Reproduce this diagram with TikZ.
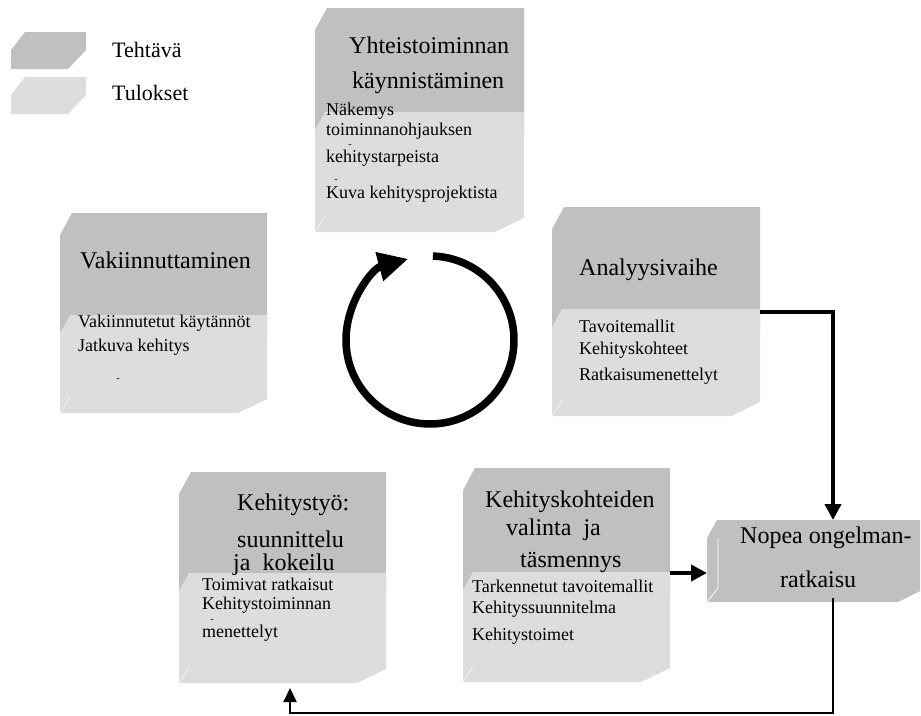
\documentclass[tikz,border=0pt]{standalone}
\usepackage{fontspec}
\setmainfont{Liberation Serif}
\usetikzlibrary{arrows.meta}
\definecolor{tumma}{HTML}{C0C0C0}
\definecolor{vaalea}{HTML}{DDDDDD}

\begin{document}
\begin{tikzpicture}[x=1pt,y=-1pt,
    otsikko/.style={font=\fontsize{24}{28}\selectfont, inner sep=0pt, anchor=base west},
    teksti/.style={font=\fontsize{18}{21}\selectfont, inner sep=0pt, anchor=base west},
    viiva/.style={font=\fontsize{10}{12}\selectfont, inner sep=0pt},
    nuoli/.style={line width=4pt, -{Triangle[length=16pt,width=16pt]}},
    ohutnuoli/.style={line width=2pt, -{Triangle[length=14pt,width=13pt]}}]

       \useasboundingbox (0,0) rectangle (921,715);

       %lohkon tumma yläosa ja vaalea alaosa
       \newcommand{\nYlaosa}[4]{\fill[tumma] (#1+12,#2) -- (#3,#2) -- (#3,#4) -- (#1,#4) -- (#1,#2+22) -- cycle;}
       \newcommand{\nAlaosa}[4]{%
           \fill[vaalea] (#1+10,#2) -- (#3,#2) -- (#3,#4-14) -- (#3-29,#4) -- (#1,#4) -- (#1,#2+18) -- cycle;
           \draw[white, line width=0.4pt] (#1,#4) -- (#1+10,#4-16);}

       %selite
       \fill[tumma] (25,32) -- (86,32) -- (86,50) -- (68,69) -- (11,69) -- (11,50) -- cycle;
       \fill[vaalea] (25,77) -- (86,77) -- (86,95) -- (68,114) -- (11,114) -- (11,95) -- cycle;
       \node[font=\fontsize{22}{26}\selectfont, inner sep=0pt, anchor=base west] (lTehtava) at (112,57) {Tehtävä};
       \node[font=\fontsize{22}{26}\selectfont, inner sep=0pt, anchor=base west] (lTulokset) at (112,100) {Tulokset};

       %lohkot
       \nYlaosa{315}{8}{524}{135}   \nAlaosa{315}{112}{524}{232}
       \nYlaosa{60}{213}{267}{340}  \nAlaosa{60}{315}{267}{413}
       \nYlaosa{552}{207}{760}{330} \nAlaosa{552}{309}{760}{416}
       \nYlaosa{179}{472}{386}{595} \nAlaosa{179}{573}{386}{683}
       \nYlaosa{463}{468}{670}{595} \nAlaosa{463}{572}{670}{682}

       \fill[tumma] (717,520) -- (920,520) -- (920,591) -- (898,602) -- (707,602) -- (707,538) -- cycle;
       \draw[white, line width=0.8pt] (718,538) -- (718,588) -- (707,602);

       %otsikot
       \foreach \v/\x/\y/\t in
       {tYhteis/349/53/Yhteistoiminnan,
           tKaynnis/352/88/käynnistäminen,
           tVakiin/80/268/Vakiinnuttaminen,
           tAnalyysi/579/275/Analyysivaihe,
           tKehitystyo/237/510/Kehitystyö:,
           tSuunn/237/547/suunnittelu,
           tKokeilu/233/570/ja\ \ kokeilu,
           tKohteet/485/507/Kehityskohteiden,
           tValinta/506/535/valinta\ \ ja,
           tTasm/520/567/täsmennys,
           tNopea/740/543/Nopea ongelman-,
           tRatk/780/587/ratkaisu
        }
        {
            \node[otsikko] (\v) at (\x,\y) {\t};
        };

       %tulokset
       \foreach \v/\x/\y/\t in
       {bNakemys/326/115/Näkemys,
           bToim/326/135/toiminnanohjauksen,
           bTarpeet/326/162/kehitystarpeista,
           bKuva/326/198/Kuva kehitysprojektista,
           bKaytannot/78/327/Vakiinnutetut\ käytännöt,
           bJatkuva/78/351/Jatkuva kehitys,
           bTavoite/579/332/Tavoitemallit,
           bKohteet/579/354/Kehityskohteet,
           bRatk/579/380/Ratkaisumenettelyt,
           bToimivat/202/590/Toimivat ratkaisut,
           bKehToim/202/609/Kehitystoiminnan,
           bMenet/202/637/menettelyt,
           bTark/472/592/Tarkennetut\ tavoitemallit,
           bSuunn/472/613/Kehityssuunnitelma,
           bToimet/472/640/Kehitystoimet
        }
        {
            \node[teksti] (\v) at (\x,\y) {\t};
        };

       %irralliset tavuviivat
       \foreach \v/\x/\y in {dToim/350/146, dKuva/336/181, dJatkuva/118/380, dKehToim/212/621}
        {
            \node[viiva] (\v) at (\x,\y) {-};
        };

       %kiertonuoli
       \coordinate (cKeski) at (430,340);
       \draw[line width=7.5pt, -{Triangle[length=30pt,width=28pt]}] (cKeski) ++(-88:84) arc[start angle=-88, end angle=255, radius=84];

       %yhteydet
       \coordinate (cAnalyysiUlos) at (760,312);
       \coordinate (cKulmaA) at (833,312);
       \coordinate (cNopeaYla) at (833,520);
       \coordinate (cValintaUlos) at (670,573);
       \coordinate (cNopeaVasen) at (707,573);
       \coordinate (cNopeaAla) at (833,598);
       \coordinate (cKulmaB) at (833,713);
       \coordinate (cKulmaC) at (290,713);
       \coordinate (cKehitysAla) at (290,688);

       \draw[nuoli] (cAnalyysiUlos) -- (cKulmaA) -- (cNopeaYla);
       \draw[nuoli] (cValintaUlos) -- (cNopeaVasen);
       \draw[ohutnuoli] (cNopeaAla) -- (cKulmaB) -- (cKulmaC) -- (cKehitysAla);
        %
        \end{tikzpicture}
\end{document}
